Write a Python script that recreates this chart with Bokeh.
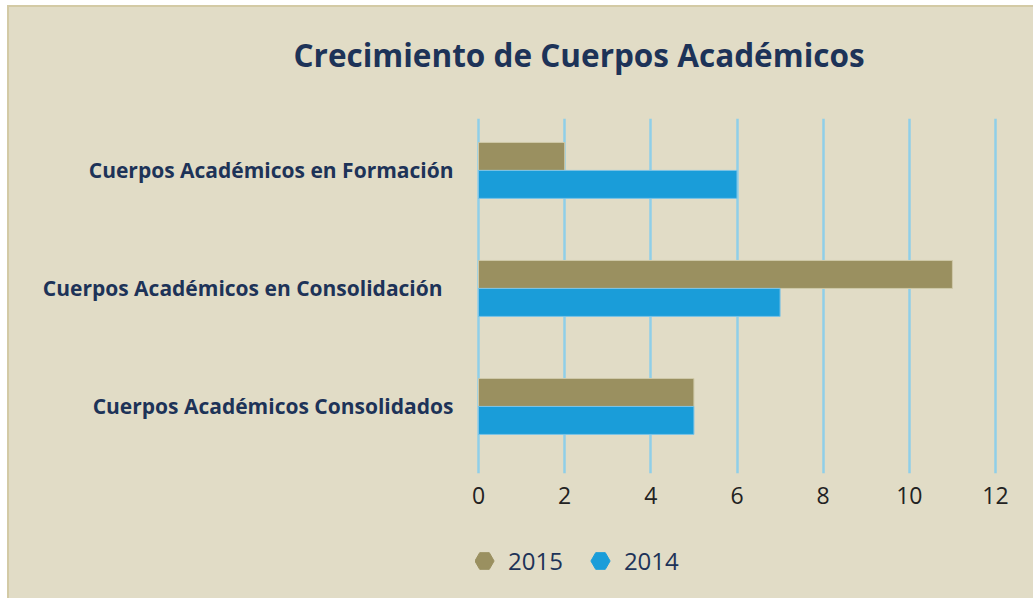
from bokeh.plotting import figure
from bokeh.models import FixedTicker, Legend, LegendItem, ColumnDataSource, Range1d
from bokeh.layouts import column
from bokeh.embed import file_html
from bokeh.resources import INLINE

# ---- data ----
categories = ["Cuerpos Académicos en Formación",
              "Cuerpos Académicos en Consolidación",
              "Cuerpos Académicos Consolidados"]
values_2015 = [2, 11, 5]
values_2014 = [6, 7, 5]
series = ["2015", "2014"]
x_ticks = [0, 2, 4, 6, 8, 10, 12]

BG = "#e1dcc6"
NAVY = "#1d3358"
OLIVE = "#9a9060"
BLUE = "#1a9dd9"

common = dict(width=1024, output_backend="svg", toolbar_location=None,
              min_border_left=466, min_border_right=35,
              background_fill_alpha=0, border_fill_alpha=0,
              outline_line_color=None)

# ---- title strip ----
pt = figure(height=111, x_range=Range1d(0, 1), y_range=Range1d(0, 1),
            x_axis_location=None, y_axis_location=None,
            min_border_top=0, min_border_bottom=0, **common)
pt.grid.visible = False
pt.title.text = "Crecimiento de Cuerpos Académicos"
pt.title.text_font = "Open Sans"
pt.title.text_font_size = "31.5px"
pt.title.text_font_style = "bold"
pt.title.text_color = NAVY
pt.title.align = "left"
pt.title.offset = -182
pt.title.standoff = 46

# ---- main chart ----
n = len(categories)
ypos = list(range(n))[::-1]          # first category on top
bar_h = 0.237
src = ColumnDataSource(dict(
    cat=categories,
    y15=[y + bar_h / 2 for y in ypos],
    y14=[y - bar_h / 2 for y in ypos],
    v15=values_2015,
    v14=values_2014,
))

p = figure(height=409, x_range=(-0.07, 12.07), y_range=(-0.568, 2.44),
           min_border_top=0, min_border_bottom=54, **common)

p.hbar(y="y15", left=0, right="v15", height=bar_h, source=src,
       fill_color=OLIVE, line_color="#cfc9a8", line_width=1)
p.hbar(y="y14", left=0, right="v14", height=bar_h, source=src,
       fill_color=BLUE, line_color="#7cc3e6", line_width=1)

# x axis
p.xaxis.ticker = FixedTicker(ticks=x_ticks)
p.xaxis.axis_line_color = None
p.xaxis.major_tick_line_color = None
p.xaxis.minor_tick_line_color = None
p.xaxis.major_tick_out = 0
p.xaxis.major_tick_in = 0
p.xaxis.major_label_standoff = 13
p.xaxis.major_label_text_font = "Open Sans"
p.xaxis.major_label_text_font_size = "23px"
p.xaxis.major_label_text_color = "#222222"

# y axis
p.yaxis.ticker = FixedTicker(ticks=ypos)
p.yaxis.major_label_overrides = {y: (c + "\u00a0\u00a0" if "Consolidación" in c else c)
                                 for y, c in zip(ypos, categories)}
p.yaxis.axis_line_color = None
p.yaxis.major_tick_line_color = None
p.yaxis.minor_tick_line_color = None
p.yaxis.major_tick_out = 0
p.yaxis.major_tick_in = 0
p.yaxis.major_label_standoff = 22
p.yaxis.major_label_text_font = "Open Sans"
p.yaxis.major_label_text_font_size = "21px"
p.yaxis.major_label_text_font_style = "bold"
p.yaxis.major_label_text_color = NAVY

# grid
p.ygrid.grid_line_color = None
p.xgrid.ticker = FixedTicker(ticks=x_ticks)
p.xgrid.grid_line_color = "#8fcfe8"
p.xgrid.grid_line_width = 2.5

# ---- legend strip with hexagon markers ----
pl = figure(height=71, x_range=Range1d(0, 1), y_range=Range1d(0, 1),
            x_axis_location=None, y_axis_location=None,
            min_border_top=0, min_border_bottom=0, **common)
pl.grid.visible = False
m15 = pl.scatter(x=[0.5], y=[-10], size=19, marker="hex",
                 fill_color=OLIVE, line_color=OLIVE)
m14 = pl.scatter(x=[0.5], y=[-10], size=19, marker="hex",
                 fill_color=BLUE, line_color=BLUE)
legend = Legend(items=[LegendItem(label=series[0], renderers=[m15]),
                       LegendItem(label=series[1], renderers=[m14])],
                orientation="horizontal", location=(-15, 10),
                glyph_width=48, glyph_height=55, label_standoff=0,
                spacing=13, padding=0, margin=0,
                background_fill_alpha=0, border_line_color=None,
                label_text_font="Open Sans", label_text_font_size="24px",
                label_text_color=NAVY)
pl.add_layout(legend, "center")

layout = column(pt, p, pl, spacing=0,
                styles={"margin-left": "7px", "margin-top": "5px",
                        "background-color": BG,
                        "border-left": "2px solid #d3caa5",
                        "border-top": "2px solid #d3caa5"})

open("out.html", "w").write(file_html(layout, INLINE))
